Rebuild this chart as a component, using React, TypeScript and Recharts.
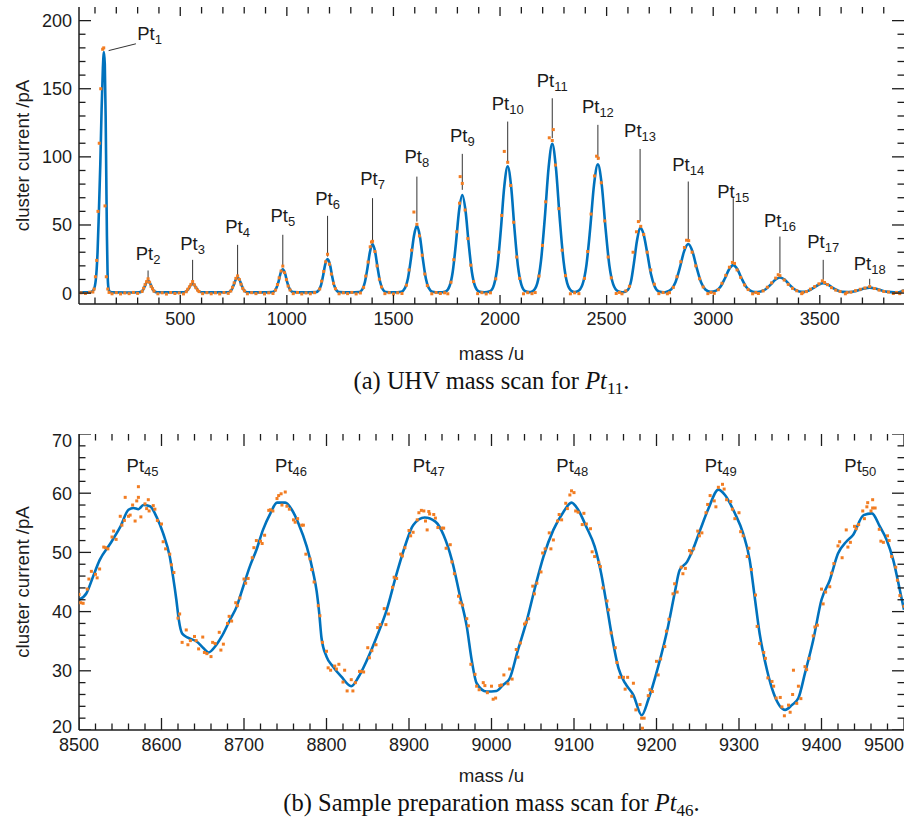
import React from "react";
import { ComposedChart, Line, Scatter, XAxis, YAxis, ReferenceLine } from "recharts";

const SANS = '"Liberation Sans", Arial, Helvetica, sans-serif';
const SERIF = '"Liberation Serif", "Times New Roman", serif';
const FIT_BLUE = "#0072bd";
const SCAN_ORANGE = "#f27d22";
const INK = "#1c1c1c";

// ---------- (a) UHV mass scan ----------
// smoothed fit, [mass, current]
const uhvFit: [number, number][] = [
  [25, 0.5], [60, 0.6], [80, 0.8], [94, 2.5], [104, 10], [112, 30], [118, 58], [125, 95], [131, 135], [137, 165],
  [142, 177], [146, 168], [150, 130], [153, 85], [156, 42], [159, 15], [163, 4], [170, 1], [185, 0.5], [250, 0.4],
  [307, 0.6], [317, 1.0], [325, 2.3], [333, 4.8], [341, 7.7], [349, 9.0], [357, 7.7], [365, 4.8], [373, 2.3], [381, 1.0], [391, 0.6],
  [450, 0.5],
  [514, 0.6], [524, 0.9], [532, 1.8], [541, 3.7], [549, 5.8], [558, 6.8], [567, 5.8], [575, 3.7], [584, 1.8], [592, 0.9], [602, 0.6],
  [660, 0.5],
  [722, 0.6], [733, 1.2], [742, 2.8], [751, 6.0], [760, 9.8], [769, 11.5], [778, 9.8], [787, 6.0], [796, 2.8], [805, 1.2], [816, 0.6],
  [875, 0.5],
  [932, 0.7], [943, 1.6], [952, 4.1], [962, 9.0], [971, 14.8], [981, 17.5], [991, 14.8], [1000, 9.0], [1010, 4.1], [1019, 1.6], [1030, 0.7],
  [1085, 0.5],
  [1136, 0.7], [1149, 2.0], [1160, 5.6], [1170, 12.8], [1180, 21.1], [1191, 25.0], [1202, 21.1], [1212, 12.8], [1222, 5.6], [1233, 2.0], [1246, 0.7],
  [1295, 0.5],
  [1340, 0.8], [1354, 2.7], [1366, 8.0], [1378, 18.3], [1390, 30.4], [1402, 36.0], [1414, 30.4], [1426, 18.3], [1438, 8.0], [1450, 2.7], [1464, 0.8],
  [1500, 0.5],
  [1537, 1.0], [1554, 3.6], [1568, 10.8], [1582, 25.0], [1596, 41.7], [1610, 49.5], [1624, 41.7], [1638, 25.0], [1652, 10.8], [1666, 3.6], [1683, 1.0],
  [1715, 0.5],
  [1745, 1.2], [1763, 5.0], [1778, 15.5], [1793, 36.3], [1808, 60.6], [1823, 72.0], [1838, 60.6], [1853, 36.3], [1868, 15.5], [1883, 5.0], [1901, 1.2],
  [1927, 0.6],
  [1953, 1.4], [1972, 6.3], [1988, 19.9], [2004, 46.8], [2020, 78.3], [2036, 93.0], [2052, 78.3], [2068, 46.8], [2084, 19.9], [2100, 6.3], [2119, 1.4],
  [2137, 0.7],
  [2154, 1.5], [2175, 7.3], [2192, 23.4], [2210, 55.0], [2228, 92.2], [2245, 109.5], [2262, 92.2], [2280, 55.0], [2298, 23.4], [2315, 7.3], [2336, 1.5],
  [2350, 0.8],
  [2365, 1.4], [2387, 6.4], [2405, 20.2], [2423, 47.5], [2441, 79.6], [2459, 94.5], [2477, 79.6], [2495, 47.5], [2513, 20.2], [2531, 6.4], [2553, 1.4],
  [2575, 0.6], [2600, 2.5], [2615, 9.0], [2628, 22.0], [2642, 38.0], [2657, 48.0], [2672, 44.0], [2690, 30.0], [2708, 14.0], [2725, 5.0], [2745, 1.2],
  [2770, 0.6],
  [2779, 0.8], [2803, 2.7], [2823, 8.0], [2843, 18.3], [2863, 30.4], [2883, 36.0], [2903, 30.4], [2923, 18.3], [2943, 8.0], [2963, 2.7], [2988, 0.9],
  [3014, 1.8], [3034, 4.7], [3054, 10.5], [3074, 17.3], [3094, 20.5], [3114, 17.3], [3134, 10.5], [3154, 4.7], [3174, 1.8], [3197, 0.8],
  [3223, 1.2], [3246, 2.8], [3268, 6.0], [3291, 9.8], [3313, 11.5], [3336, 9.8], [3358, 6.0], [3381, 2.8], [3403, 1.2], [3428, 0.9],
  [3449, 1.9], [3471, 3.9], [3494, 6.1], [3516, 7.2], [3539, 6.1], [3561, 3.9], [3584, 1.9], [3606, 0.9], [3634, 0.8],
  [3659, 1.2], [3684, 2.25], [3709, 3.4], [3734, 4.0], [3759, 3.4], [3784, 2.25], [3809, 1.2], [3834, 0.7], [3864, 0.5], [3880, 1.0], [3895, 2.2],
];

// measured points, [mass, current]
const uhvScan: [number, number][] = [
  [35, 0.2], [55, -0.3], [75, 0.6], [90, 0.8], [96, 3.0], [102, 12], [108, 24], [114, 60], [120, 110], [127, 150], [136, 179], [141, 180],
  [147, 64], [153, 12], [160, 3], [166, 0.5],
  [180, -0.5], [200, 0.3], [220, -0.6], [240, 0.1], [260, -0.4], [280, 0.5], [300, -0.2],
  [321, 1.2], [328, 3.6], [335, 6.2], [342, 8.4], [349, 10.5], [356, 8.0], [363, 5.0], [370, 3.2], [377, 1.4],
  [395, -0.5], [415, 0.2], [435, -0.7], [455, 0.4], [475, -0.3], [495, 0.1], [515, -0.6],
  [528, 1.0], [535, 2.8], [543, 4.6], [550, 6.4], [558, 8.5], [566, 6.1], [573, 4.0], [581, 2.2], [588, 1.1],
  [605, -0.4], [625, 0.3], [645, -0.5], [665, 0.2], [685, -0.6], [705, 0.4], [725, -0.2],
  [737, 1.5], [745, 4.3], [753, 7.5], [761, 10.8], [769, 12.6], [777, 10.0], [785, 6.5], [793, 3.5], [801, 1.6],
  [815, -0.5], [835, 0.3], [855, -0.4], [875, 0.5], [895, -0.6], [915, 0.2], [935, -0.3],
  [947, 2.2], [956, 6.3], [964, 11.2], [973, 16.2], [981, 19.8], [989, 15.0], [998, 9.9], [1006, 5.2], [1015, 2.3],
  [1030, -0.4], [1050, 0.4], [1070, -0.6], [1090, 0.1], [1110, -0.5], [1130, 0.3],
  [1154, 3.0], [1163, 8.8], [1173, 15.9], [1182, 23.0], [1191, 28.5], [1200, 21.2], [1209, 14.0], [1219, 7.2], [1228, 3.2],
  [1245, -0.5], [1265, 0.2], [1285, -0.4], [1305, 0.5], [1325, -0.6], [1345, 0.1],
  [1360, 4.2], [1370, 12.5], [1381, 22.8], [1391, 34.0], [1397, 37.5], [1402, 38.0], [1413, 30.5], [1423, 20.0], [1434, 10.2], [1444, 4.5],
  [1460, -0.4], [1480, 0.3], [1500, -0.6], [1520, 0.2], [1540, -0.3],
  [1561, 5.8], [1573, 17.0], [1585, 31.5], [1596, 59.5], [1610, 50.5], [1622, 42.0], [1635, 27.8], [1647, 14.0], [1659, 5.5],
  [1680, -0.5], [1700, 0.4], [1720, -0.3], [1740, 0.2], [1755, -0.5],
  [1770, 8.0], [1783, 24.5], [1797, 45.0], [1810, 66.0], [1813, 85.5], [1823, 80.5], [1836, 61.0], [1849, 40.0], [1863, 20.5], [1876, 8.5],
  [1895, -0.4], [1915, 0.3], [1935, -0.6], [1955, 0.2],
  [1980, 10.5], [1994, 30.0], [2008, 57.0], [2020, 104.0], [2036, 96.0], [2050, 79.0], [2064, 52.0], [2078, 26.5], [2092, 10.8],
  [2110, -0.5], [2130, 0.3], [2150, -0.4], [2165, 0.4],
  [2183, 12.5], [2199, 35.0], [2214, 67.0], [2231, 114.0], [2245, 112.0], [2250, 120.0], [2260, 94.0], [2276, 62.0], [2291, 31.5], [2307, 12.8],
  [2330, -0.5], [2350, 0.2], [2370, -0.4],
  [2396, 10.8], [2411, 30.5], [2427, 58.0], [2443, 86.0], [2453, 100.5], [2461, 99.0], [2475, 81.0], [2491, 53.0], [2507, 26.5], [2522, 11.2],
  [2545, -0.3], [2560, 0.5], [2572, -0.5],
  [2590, 1.6], [2607, 5.0], [2624, 30.0], [2640, 45.0], [2649, 52.5], [2660, 49.0], [2674, 43.0], [2690, 30.0], [2707, 17.0], [2724, 6.5],
  [2745, -0.4], [2765, 0.4], [2785, -0.5], [2795, 0.3],
  [2813, 4.2], [2830, 12.0], [2848, 23.0], [2865, 33.5], [2875, 38.8], [2885, 38.5], [2901, 30.0], [2918, 20.0], [2936, 10.5], [2953, 4.5],
  [2975, -0.4], [2990, 0.5], [3005, -0.2],
  [3024, 2.5], [3041, 7.2], [3059, 13.0], [3076, 19.0], [3090, 22.5], [3100, 21.8], [3112, 17.0], [3129, 11.5], [3147, 6.0], [3164, 2.6],
  [3185, -0.5], [3200, 0.4], [3212, -0.3],
  [3234, 1.6], [3254, 4.3], [3274, 7.5], [3293, 11.0], [3305, 13.5], [3313, 12.8], [3333, 9.6], [3352, 6.4], [3372, 3.5], [3392, 1.7],
  [3415, -0.4], [3420, 0.3],
  [3437, 1.1], [3456, 2.9], [3476, 4.8], [3496, 6.8], [3512, 9.0], [3522, 7.8], [3536, 6.2], [3555, 4.0], [3575, 2.2], [3595, 1.2],
  [3620, -0.5], [3628, 0.4],
  [3646, 0.7], [3668, 1.8], [3690, 2.8], [3712, 3.8], [3734, 4.8], [3756, 3.4], [3778, 2.2], [3800, 1.2], [3822, 0.8],
  [3845, -0.3], [3860, 0.5], [3875, -0.4], [3890, 1.5],
];

const uhvPeakIndex = [1, 2, 3, 4, 5, 6, 7, 8, 9, 10, 11, 12, 13, 14, 15, 16, 17, 18];
const uhvPeakMass = [298, 349, 558, 769, 981, 1191, 1402, 1610, 1823, 2036, 2245, 2459, 2657, 2883, 3094, 3313, 3516, 3734];
const uhvLabelLevel = [185.8, 24.4, 31.8, 43.9, 52.3, 64.8, 79.4, 95.2, 111, 134.5, 151.3, 131.9, 114.6, 89.7, 69.5, 48.6, 32.9, 17.1];
const uhvLeaderTop = [183, 16.6, 24.4, 35.4, 42.8, 56.7, 69.7, 85.5, 102.2, 125.9, 143, 123.5, 105.8, 81.9, 69.7, 41.5, 24.4, 10.5];
const uhvLeaderBottom = [178, 9.8, 7.3, 12.7, 19.5, 26.8, 36.7, 52.5, 75.8, 95.4, 113.7, 97.8, 52.5, 39.1, 23.2, 14.7, 9.8, 6.1];
const uhvLeaderFoot = 164; // Pt1 leader runs sideways to its peak

const uhvMassLabels = [500, 1000, 1500, 2000, 2500, 3000, 3500];
const uhvCurrentLabels = [0, 50, 100, 150, 200];

// ---------- (b) sample preparation scan ----------
const prepFit: [number, number][] = [
  [8500, 42.0], [8509, 43.1], [8517, 45.9], [8525, 48.7], [8538, 51.5], [8550, 54.3], [8560, 57.2], [8566, 57.5], [8572, 57.3],
  [8578, 58.0], [8586, 57.8], [8594, 56.0], [8602, 53.2], [8610, 49.3], [8614, 45.9], [8618, 42.0], [8621, 38.6], [8625, 36.3],
  [8632, 35.6], [8643, 34.9], [8651, 33.8], [8657, 33.1], [8665, 34.1], [8673, 35.8], [8683, 38.6], [8691, 40.8], [8699, 44.2],
  [8707, 47.6], [8715, 50.4], [8723, 53.8], [8732, 56.6], [8740, 58.4], [8750, 58.4], [8758, 57.2], [8766, 54.9], [8776, 51.0],
  [8784, 46.5], [8788, 43.5], [8791, 40.0], [8794, 35.5], [8800, 32.4], [8808, 30.7], [8818, 29.0], [8830, 27.4], [8839, 29.0],
  [8849, 31.8], [8861, 35.8], [8873, 40.3], [8885, 46.4], [8895, 51.0], [8905, 54.6], [8919, 55.9], [8932, 55.2], [8942, 52.9],
  [8952, 48.7], [8962, 42.5], [8970, 37.5], [8976, 31.8], [8982, 27.9], [8994, 26.5], [9006, 26.6], [9014, 27.6], [9022, 28.7],
  [9032, 33.5], [9043, 38.6], [9053, 44.2], [9063, 49.3], [9075, 53.8], [9087, 56.8], [9097, 58.4], [9105, 57.2], [9115, 54.3],
  [9125, 51.0], [9133, 46.4], [9140, 40.8], [9146, 35.8], [9154, 30.4], [9162, 27.9], [9172, 25.9], [9182, 22.5], [9190, 25.1],
  [9202, 30.7], [9214, 37.5], [9222, 43.1], [9228, 47.0], [9237, 48.4], [9243, 50.1], [9253, 53.8], [9263, 57.4], [9275, 60.6],
  [9283, 59.7], [9295, 56.6], [9305, 53.2], [9313, 48.7], [9319, 42.5], [9325, 36.3], [9334, 30.1], [9342, 26.2], [9356, 23.4],
  [9364, 24.2], [9372, 25.4], [9380, 29.6], [9390, 35.2], [9400, 42.0], [9410, 45.3], [9420, 49.8], [9430, 51.8], [9438, 52.9],
  [9451, 56.3], [9461, 56.6], [9471, 54.3], [9479, 52.1], [9487, 48.7], [9495, 43.6], [9500, 40.3],
];

const prepScan: [number, number][] = [
  [8500, 42.9], [8505, 41.4], [8510, 43.8], [8515, 46.8], [8520, 46.3], [8525, 47.2], [8530, 50.9], [8535, 50.6], [8540, 52.6],
  [8545, 52.2], [8550, 56.1], [8555, 55.4], [8556, 59.3], [8560, 56.1], [8565, 58.0], [8568, 55.3], [8570, 58.7], [8572, 61.1],
  [8575, 56.0], [8580, 58.2], [8584, 58.9], [8585, 57.0], [8590, 57.9], [8595, 55.4], [8600, 54.8], [8605, 50.6], [8610, 49.7],
  [8615, 46.6], [8620, 38.9], [8625, 34.8], [8630, 36.9], [8635, 35.1], [8640, 35.8], [8645, 33.7], [8650, 35.7], [8655, 32.9],
  [8660, 32.4], [8665, 34.6], [8670, 36.5], [8675, 34.5], [8680, 38.0], [8685, 38.4], [8690, 41.5], [8695, 42.3], [8700, 45.5],
  [8705, 45.6], [8710, 49.1], [8715, 52.0], [8720, 51.9], [8725, 52.9], [8730, 57.1], [8735, 57.0], [8740, 59.1], [8745, 59.9],
  [8746, 58.0], [8750, 60.2], [8755, 57.3], [8760, 55.5], [8765, 55.7], [8770, 54.6], [8775, 49.7], [8780, 48.9], [8785, 45.0],
  [8790, 41.0], [8795, 34.8], [8800, 33.3], [8805, 30.1], [8810, 30.8], [8815, 31.1], [8820, 28.1], [8825, 26.6], [8830, 28.5],
  [8835, 28.0], [8840, 29.9], [8845, 29.8], [8850, 33.9], [8855, 33.4], [8860, 34.4], [8865, 37.8], [8870, 40.5], [8875, 39.6],
  [8880, 44.1], [8885, 45.6], [8890, 49.7], [8895, 50.8], [8900, 53.7], [8905, 53.4], [8910, 55.5], [8915, 57.1], [8918, 57.0],
  [8920, 55.3], [8924, 56.9], [8925, 56.5], [8930, 56.4], [8935, 54.2], [8940, 54.1], [8945, 50.7], [8950, 51.3], [8955, 46.4],
  [8960, 42.6], [8965, 41.1], [8970, 38.8], [8975, 31.1], [8980, 29.4], [8985, 26.8], [8990, 28.0], [8995, 26.3], [9000, 27.4],
  [9005, 25.4], [9010, 27.5], [9015, 29.3], [9020, 27.8], [9025, 28.6], [9030, 33.6], [9035, 34.7], [9040, 37.9], [9045, 38.8],
  [9050, 44.3], [9055, 44.8], [9060, 46.7], [9065, 50.6], [9070, 53.3], [9075, 52.1], [9080, 55.3], [9085, 55.5], [9090, 58.3],
  [9095, 59.7], [9097, 60.4], [9100, 60.1], [9105, 56.8], [9110, 54.7], [9115, 54.8], [9120, 54.0], [9125, 49.3], [9130, 48.3],
  [9135, 44.0], [9140, 41.8], [9145, 36.4], [9150, 33.9], [9155, 28.9], [9160, 28.9], [9165, 28.9], [9170, 25.7], [9175, 23.4],
  [9180, 24.3], [9183, 20.3], [9185, 22.0], [9190, 25.8], [9195, 26.5], [9200, 31.6], [9205, 32.0], [9210, 34.1], [9215, 38.7],
  [9220, 43.0], [9225, 43.3], [9230, 47.5], [9235, 47.3], [9240, 50.3], [9245, 50.6], [9250, 53.6], [9255, 53.3], [9260, 56.7],
  [9265, 59.6], [9270, 58.7], [9275, 61.0], [9280, 61.5], [9285, 58.9], [9290, 58.6], [9295, 55.7], [9300, 56.7], [9305, 52.8],
  [9310, 49.3], [9315, 47.1], [9320, 42.8], [9325, 34.6], [9330, 33.1], [9335, 28.8], [9340, 28.2], [9345, 25.4], [9350, 25.5],
  [9355, 22.4], [9360, 24.2], [9365, 26.0], [9366, 30.1], [9370, 24.5], [9375, 25.3], [9380, 30.7], [9385, 32.1], [9390, 35.9],
  [9395, 37.7], [9400, 43.8], [9405, 43.3], [9410, 44.2], [9415, 48.1], [9420, 51.1], [9425, 49.1], [9430, 53.8], [9435, 51.7],
  [9440, 54.4], [9445, 54.7], [9450, 57.0], [9455, 57.7], [9456, 58.4], [9460, 57.0], [9462, 58.9], [9465, 57.5], [9470, 53.9],
  [9475, 51.7], [9480, 52.8], [9485, 49.3], [9490, 47.5], [9495, 42.7], [9500, 40.9],
];

// second sweep of the same scan, interleaved with the first
const prepScanRepeat: [number, number][] = [
  [8502, 41.5], [8512, 45.5], [8522, 45.7], [8532, 50.8], [8542, 53.6], [8552, 54.6], [8562, 56.3], [8572, 59.3], [8582, 57.4],
  [8592, 57.3], [8602, 51.8], [8612, 47.9], [8622, 39.6], [8632, 34.4], [8642, 35.1], [8652, 33.1], [8662, 34.8], [8672, 33.5],
  [8682, 39.2], [8692, 41.0], [8702, 44.8], [8712, 50.8], [8722, 51.5], [8732, 57.2], [8742, 59.6], [8752, 57.8], [8762, 55.1],
  [8772, 54.6], [8782, 47.1], [8792, 39.3], [8802, 30.5], [8812, 30.3], [8822, 30.1], [8832, 26.6], [8842, 29.9], [8852, 32.2],
  [8862, 37.3], [8872, 37.8], [8882, 45.8], [8892, 49.4], [8902, 52.8], [8912, 56.7], [8922, 53.8], [8932, 55.8], [8942, 54.1],
  [8952, 48.4], [8962, 41.5], [8972, 37.6], [8982, 27.4], [8992, 27.5], [9002, 25.2], [9012, 27.6], [9022, 30.3], [9032, 32.3],
  [9042, 38.2], [9052, 43.0], [9062, 49.9], [9072, 50.6], [9082, 56.4], [9092, 57.4], [9102, 57.0], [9112, 56.6], [9122, 50.1],
  [9132, 47.6], [9142, 40.3], [9152, 31.4], [9162, 26.9], [9172, 27.9], [9182, 22.0], [9192, 26.8], [9202, 29.3], [9212, 36.7],
  [9222, 44.7], [9232, 46.4], [9242, 49.9], [9252, 52.8], [9262, 58.1], [9272, 57.7], [9282, 60.7], [9292, 57.3], [9302, 53.5],
  [9312, 50.7], [9322, 37.5], [9332, 32.1], [9342, 27.4], [9352, 23.9], [9362, 23.0], [9372, 27.4], [9382, 30.2], [9392, 37.4],
  [9402, 41.3], [9412, 46.5], [9422, 51.8], [9432, 50.9], [9442, 54.0], [9452, 55.7], [9462, 57.5], [9472, 51.9], [9482, 52.0],
  [9492, 45.3],
];

const prepPeakIndex = [45, 46, 47, 48, 49, 50];
const prepPeakMass = [8577, 8757, 8924, 9098, 9278, 9447];
const prepLabelLevel = 63.6;

const prepMassLabels = [8500, 8600, 8700, 8800, 8900, 9000, 9100, 9200, 9300, 9400, 9500];
const prepCurrentLabels = [20, 30, 40, 50, 60, 70];

// ---------- helpers ----------
function stepTicks(from: number, to: number, step: number) {
  const out: number[] = [];
  for (let v = from; v <= to + 1e-9; v += step) out.push(Math.round(v * 100) / 100);
  return out;
}

const toRows = (pairs: [number, number][]) => pairs.map(([mass, current]) => ({ mass, current }));

type Side = "bottom" | "top" | "left" | "right";
type Nudge = { dx?: number; dy?: number; anchor?: "start" | "middle" | "end" };

// axis tick labels only; the tick marks are drawn as a scatter series below
function tickLabel(side: "bottom" | "left", majors: number[], nudge?: (v: number) => Nudge) {
  return (props: any) => {
    const { x, y, payload } = props;
    const v = payload.value;
    if (!majors.includes(v)) return <g />;
    const n = nudge ? nudge(v) : {};
    if (side === "bottom") {
      return (
        <text x={x + (n.dx || 0)} y={y + 21} textAnchor={n.anchor || "middle"} fontSize={18} fill={INK} fontFamily={SANS}>
          {v}
        </text>
      );
    }
    return (
      <text x={x - 7} y={y + (n.dy || 0)} dy="0.36em" textAnchor="end" fontSize={18} fill={INK} fontFamily={SANS}>
        {v}
      </text>
    );
  };
}

// inward tick marks on all four sides of the frame, placed through the chart's own scales
function frameMarks(massTicks: number[], currentTicks: number[], massMajors: number[], currentMajors: number[],
  massDomain: [number, number], currentDomain: [number, number]) {
  const rows: { mass: number; current: number; side: Side; major: boolean }[] = [];
  massTicks.forEach((t) => {
    const major = massMajors.includes(t);
    rows.push({ mass: t, current: currentDomain[0], side: "bottom", major });
    rows.push({ mass: t, current: currentDomain[1], side: "top", major });
  });
  currentTicks.forEach((t) => {
    const major = currentMajors.includes(t);
    rows.push({ mass: massDomain[0], current: t, side: "left", major });
    rows.push({ mass: massDomain[1], current: t, side: "right", major });
  });
  return rows;
}

function markShape(majorLen: number, minorLen: number, sideMajorLen?: number) {
  return (p: any) => {
    const { side, major } = p.payload;
    const vertical = side === "bottom" || side === "top";
    const len = major ? (vertical ? majorLen : sideMajorLen || majorLen) : minorLen;
    const { cx, cy } = p;
    let x2 = cx;
    let y2 = cy;
    if (side === "bottom") y2 = cy - len;
    if (side === "top") y2 = cy + len;
    if (side === "left") x2 = cx + len;
    if (side === "right") x2 = cx - len;
    return <line x1={cx} y1={cy} x2={x2} y2={y2} stroke={INK} strokeWidth={1.3} />;
  };
}

const scanDot = (p: any) => <rect x={p.cx - 1.5} y={p.cy - 1.5} width={3} height={3} fill={SCAN_ORANGE} />;

const peakLabel = (p: any) => {
  const first = p.payload.n === 1;
  return (
    <text x={p.cx} y={p.cy} textAnchor={first ? "start" : "middle"} fontSize={18.5} fill={INK} fontFamily={SANS}>
      Pt
      <tspan fontSize={13} dy={4}>
        {p.payload.n}
      </tspan>
    </text>
  );
};

const frameLine = { stroke: INK, strokeWidth: 1.5 };

// ---------- panels ----------
function UhvPanel() {
  const massDomain: [number, number] = [25, 3895];
  const currentDomain: [number, number] = [-8, 210];
  const massTicks = stepTicks(100, 3800, 100);
  const currentTicks = stepTicks(0, 200, 10);
  const labels = uhvPeakIndex.map((n, i) => ({ n, mass: uhvPeakMass[i], current: uhvLabelLevel[i] }));
  const marks = frameMarks(massTicks, currentTicks, uhvMassLabels, uhvCurrentLabels, massDomain, currentDomain);
  return (
    <ComposedChart width={905} height={330} margin={{ top: 7, right: 1, bottom: 0, left: 0 }}>
      <XAxis xAxisId={0} dataKey="mass" type="number" domain={massDomain} allowDataOverflow ticks={massTicks} interval={0}
        height={26} tickSize={0} tickMargin={0} tickLine={false} axisLine={frameLine}
        tick={tickLabel("bottom", uhvMassLabels)} />
      <XAxis xAxisId="top" orientation="top" type="number" domain={massDomain} allowDataOverflow ticks={[]} height={0}
        tickLine={false} tick={false} axisLine={frameLine} />
      <YAxis yAxisId={0} dataKey="current" type="number" domain={currentDomain} allowDataOverflow ticks={currentTicks} interval={0}
        width={79} tickSize={0} tickMargin={0} tickLine={false} axisLine={frameLine}
        tick={tickLabel("left", uhvCurrentLabels)} />
      <YAxis yAxisId="right" orientation="right" type="number" domain={currentDomain} allowDataOverflow ticks={[]} width={0}
        tickLine={false} tick={false} axisLine={frameLine} />
      <Scatter data={toRows(uhvScan)} shape={scanDot} isAnimationActive={false} />
      <Line data={toRows(uhvFit)} dataKey="current" type="monotone" stroke={FIT_BLUE} strokeWidth={2.6} dot={false}
        activeDot={false} isAnimationActive={false} />
      <Scatter data={marks} shape={markShape(9, 6.5, 12)} isAnimationActive={false} />
      <ReferenceLine segment={[{ x: uhvPeakMass[0] - 6, y: uhvLeaderTop[0] }, { x: uhvLeaderFoot, y: uhvLeaderBottom[0] }]}
        stroke="#333" strokeWidth={1} />
      {uhvPeakMass.slice(1).map((m, i) => (
        <ReferenceLine key={m} segment={[{ x: m, y: uhvLeaderTop[i + 1] }, { x: m, y: uhvLeaderBottom[i + 1] }]}
          stroke="#333" strokeWidth={1} />
      ))}
      <Scatter data={labels} shape={peakLabel} isAnimationActive={false} />
    </ComposedChart>
  );
}

function PrepPanel() {
  const massDomain: [number, number] = [8500, 9500];
  const currentDomain: [number, number] = [20, 70];
  const massTicks = stepTicks(8500, 9500, 20);
  const currentTicks = stepTicks(20, 70, 2);
  const labels = prepPeakIndex.map((n, i) => ({ n, mass: prepPeakMass[i], current: prepLabelLevel }));
  const marks = frameMarks(massTicks, currentTicks, prepMassLabels, prepCurrentLabels, massDomain, currentDomain);
  const nudgeMass = (v: number): Nudge => (v === 9500 ? { dx: 0, anchor: "end" } : {});
  const nudgeCurrent = (v: number): Nudge => (v === 70 ? { dy: 7 } : v === 20 ? { dy: -3 } : {});
  return (
    <ComposedChart width={905} height={336} margin={{ top: 14, right: 1, bottom: 0, left: 0 }}>
      <XAxis xAxisId={0} dataKey="mass" type="number" domain={massDomain} allowDataOverflow ticks={massTicks} interval={0}
        height={26} tickSize={0} tickMargin={0} tickLine={false} axisLine={frameLine}
        tick={tickLabel("bottom", prepMassLabels, nudgeMass)} />
      <XAxis xAxisId="top" orientation="top" type="number" domain={massDomain} allowDataOverflow ticks={[]} height={0}
        tickLine={false} tick={false} axisLine={frameLine} />
      <YAxis yAxisId={0} dataKey="current" type="number" domain={currentDomain} allowDataOverflow ticks={currentTicks} interval={0}
        width={79} tickSize={0} tickMargin={0} tickLine={false} axisLine={frameLine}
        tick={tickLabel("left", prepCurrentLabels, nudgeCurrent)} />
      <YAxis yAxisId="right" orientation="right" type="number" domain={currentDomain} allowDataOverflow ticks={[]} width={0}
        tickLine={false} tick={false} axisLine={frameLine} />
      <Scatter data={toRows(prepScan.concat(prepScanRepeat))} shape={scanDot} isAnimationActive={false} />
      <Line data={toRows(prepFit)} dataKey="current" type="monotone" stroke={FIT_BLUE} strokeWidth={2.6} dot={false}
        activeDot={false} isAnimationActive={false} />
      <Scatter data={marks} shape={markShape(12, 6.5)} isAnimationActive={false} />
      <Scatter data={labels} shape={peakLabel} isAnimationActive={false} />
    </ComposedChart>
  );
}

export default function App() {
  const title = { fontFamily: SANS, fontSize: 18.7, fill: INK } as const;
  const caption = { fontFamily: SERIF, fontSize: 24.5, fill: "#111" } as const;
  return (
    <div style={{ position: "absolute", left: 0, top: 0, width: 905, height: 830, background: "#fff" }}>
      <div style={{ position: "absolute", left: 0, top: 0 }}>
        <UhvPanel />
      </div>
      <div style={{ position: "absolute", left: 0, top: 420 }}>
        <PrepPanel />
      </div>
      <svg width={905} height={830} style={{ position: "absolute", left: 0, top: 0, pointerEvents: "none" }}>
        <text transform="translate(22,155.5) rotate(-90)" textAnchor="middle" dominantBaseline="central" {...title}>
          cluster current /pA
        </text>
        <text x={491.5} y={360} textAnchor="middle" {...title}>mass /u</text>
        <text x={491.5} y={389} textAnchor="middle" {...caption}>
          (a) UHV mass scan for <tspan fontStyle="italic">Pt</tspan>
          <tspan fontSize={17} dy={5}>11</tspan>
          <tspan dy={-5}>.</tspan>
        </text>
        <text transform="translate(22,582) rotate(-90)" textAnchor="middle" dominantBaseline="central" {...title}>
          cluster current /pA
        </text>
        <text x={491.5} y={782} textAnchor="middle" {...title}>mass /u</text>
        <text x={491.5} y={811} textAnchor="middle" {...caption}>
          (b) Sample preparation mass scan for <tspan fontStyle="italic">Pt</tspan>
          <tspan fontSize={17} dy={5}>46</tspan>
          <tspan dy={-5}>.</tspan>
        </text>
      </svg>
    </div>
  );
}
